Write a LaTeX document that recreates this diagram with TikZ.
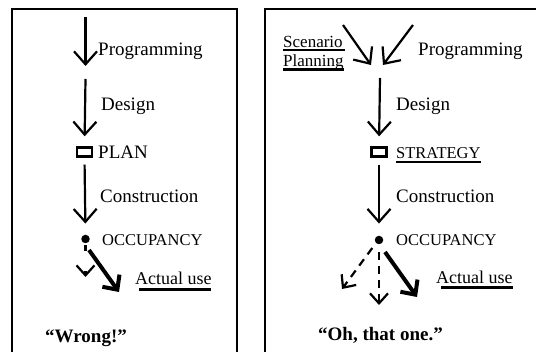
\documentclass[tikz,border=0pt]{standalone}
\usepackage{fontspec}
\setmainfont{Liberation Serif}
\usepackage{tikz}
\usetikzlibrary{arrows.meta}
\tikzstyle{frame} = [draw, line width=2.6pt]
\tikzstyle{flow} = [draw, line width=2.2pt, -{Straight Barb[length=13pt,width=23pt]}]
\tikzstyle{guess} = [draw, line width=2.2pt, dash pattern=on 8pt off 6pt, -{Straight Barb[length=10pt,width=18pt]}]
\tikzstyle{actual} = [draw, line width=4pt, -{Straight Barb[length=11pt,width=21pt]}]
\tikzstyle{stagebox} = [draw, line width=2.4pt, minimum width=15pt, minimum height=9pt, inner sep=0pt]
\tikzstyle{stagedot} = [fill, circle, inner sep=0pt, minimum size=8.5pt]
\tikzstyle{label} = [anchor=base west, inner sep=0pt]

\begin{document}
\begin{tikzpicture}[x=1pt,y=-1pt]
	\tikzstyle{every node}=[font=\fontsize{19}{22}\selectfont]
	\clip (0,0) rectangle (536,352);

	% ------------------- Frames ------------------- %
	\draw[frame] (12,9) rectangle (237,370);
	\draw[frame] (265,9) rectangle (560,370);

	% ------------------- Left: the plan ------------------- %
	\coordinate (topL) at (85.5,17);
	\coordinate (progEndL) at (85.5,66);
	\coordinate (desStartL) at (85.5,79);
	\coordinate (useStartL) at (89,250);
	\coordinate (useEndL) at (119,292);
	\coordinate (guessEndL) at (85.5,277);

	\node[stagebox] (plan) at (84.5,152) {};
	\node[stagedot] (occL) at (85.5,239) {};

	\node[label] (progL) at (98,56) {Programming};
	\node[label] (desL) at (101,111) {Design};
	\node[label] (planL) at (98,159) {PLAN};
	\node[label] (consL) at (100,203) {Construction};
	\node[label, font=\fontsize{16.5}{20}\selectfont] (occtL) at (102,246) {OCCUPANCY};
	\node[label, font=\fontsize{18}{21}\selectfont] (useL) at (135,285) {Actual use};
	\node[label, font=\fontsize{19}{22}\selectfont\bfseries] (wrong) at (45,343) {“Wrong!”};

	\draw[flow] (topL) -- (progEndL);
	\draw[flow, shorten >=10pt] (desStartL) -- (plan.north);
	\draw[flow, shorten <=7pt, shorten >=11pt] (plan.south) -- (occL.north);
	\draw[guess, dash pattern=on 6pt off 20pt, shorten <=2pt] (occL.south) -- (guessEndL);
	\draw[actual] (useStartL) -- (useEndL);
	\draw[line width=3pt] ([xshift=4pt,yshift=-5pt]useL.base west) -- ([xshift=-1pt,yshift=-5pt]useL.base east);

	% ------------------- Right: the strategy ------------------- %
	\coordinate (scenStart) at (343,25);
	\coordinate (scenEnd) at (371,65);
	\coordinate (progStartR) at (413,25);
	\coordinate (progEndR) at (383,65);
	\coordinate (desStartR) at (380,78);
	\coordinate (leftEndR) at (342,289);
	\coordinate (downEndR) at (379,305);
	\coordinate (useStartR) at (385,252);
	\coordinate (useEndR) at (417,297);

	\node[stagebox] (strat) at (379,152) {};
	\node[stagedot] (occR) at (379,240) {};

	\node[label, font=\fontsize{17}{20}\selectfont] (scen) at (283,48) {Scenario};
	\node[label, font=\fontsize{17}{20}\selectfont] (plng) at (283,67) {Planning};
	\node[label] (progR) at (418,56) {Programming};
	\node[label] (desR) at (396,111) {Design};
	\node[label, font=\fontsize{16.5}{20}\selectfont] (stratt) at (396,159) {STRATEGY};
	\node[label] (consR) at (396,203) {Construction};
	\node[label, font=\fontsize{16.5}{20}\selectfont] (occtR) at (396,246) {OCCUPANCY};
	\node[label, font=\fontsize{18}{21}\selectfont] (useR) at (436,284) {Actual use};
	\node[label, font=\fontsize{19}{22}\selectfont\bfseries] (oh) at (318,341) {“Oh, that one.”};

	\draw[flow] (scenStart) -- (scenEnd);
	\draw[flow] (progStartR) -- (progEndR);
	\draw[flow, shorten >=10pt] (desStartR) -- (strat.north);
	\draw[flow, shorten <=7pt, shorten >=12pt] (strat.south) -- (occR.north);
	\draw[guess, shorten <=6pt] (occR.south west) -- (leftEndR);
	\draw[guess, shorten <=8pt] (occR.south) -- (downEndR);
	\draw[actual] (useStartR) -- (useEndR);

	% ------------------- Underlines ------------------- %
	\draw[line width=1.8pt] ([yshift=-2pt]scen.base west) -- ([xshift=2pt,yshift=-2pt]scen.base east);
	\draw[line width=3pt] ([yshift=-3pt]plng.base west) -- ([yshift=-3pt]plng.base east);
	\draw[line width=1.3pt] ([yshift=-3pt]stratt.base west) -- ([yshift=-3pt]stratt.base east);
	\draw[line width=3pt] ([xshift=5pt,yshift=-4pt]useR.base west) -- ([yshift=-4pt]useR.base east);
\end{tikzpicture}
\end{document}
